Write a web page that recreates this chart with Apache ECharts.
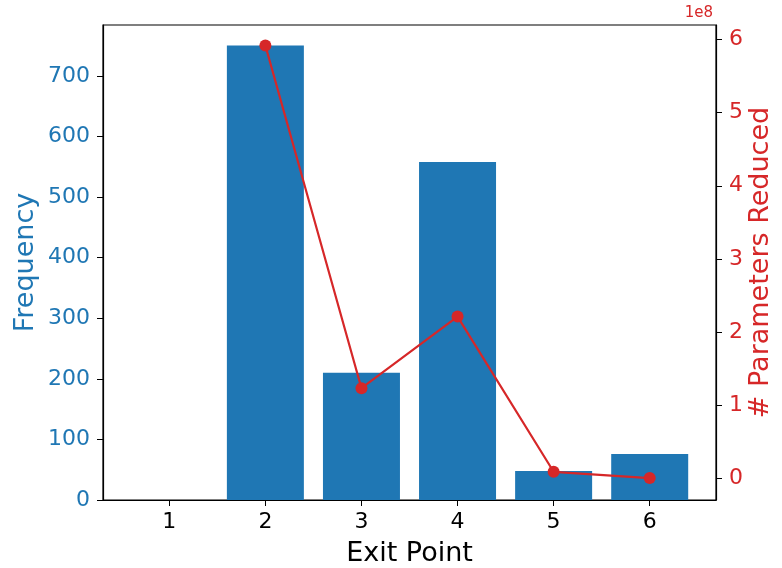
<!DOCTYPE html>
<html>
<head>
<meta charset="utf-8">
<script src="https://cdn.jsdelivr.net/npm/echarts@6/dist/echarts.min.js"></script>
<style>html,body{margin:0;padding:0;background:#fff}#c{width:782px;height:568px}</style>
</head>
<body>
<div id="c"></div>
<script>
var exitPoints = [1, 2, 3, 4, 5, 6];
var frequency = [0, 750, 210, 558, 48, 76];
var paramsReduced = [null, 5.92e8, 1.23e8, 2.21e8, 0.086e8, 0];
var freqTicks = [0, 100, 200, 300, 400, 500, 600, 700];
var paramTicks = [0, 1e8, 2e8, 3e8, 4e8, 5e8, 6e8];

var blue = '#1f77b4', red = '#d62728';
var font = 'DejaVu Sans';
var chart = echarts.init(document.getElementById('c'));
chart.setOption({
  animation: false,
  textStyle: {fontFamily: font},
  grid: {left: 103, right: 66, top: 25, bottom: 68, outerBoundsMode: 'none', containLabel: false,
    show: true, borderColor: '#000', borderWidth: 1.2, backgroundColor: 'transparent'},
  graphic: [{type: 'text', right: 69, top: 6, style: {text: '1e8', fill: red, font: '15px "DejaVu Sans"'}}],
  xAxis: {
    type: 'value', min: 0.31, max: 6.69,
    name: 'Exit Point', nameLocation: 'middle', nameGap: 40, nameMoveOverlap: false,
    nameTextStyle: {fontSize: 27, color: '#000', fontFamily: font},
    axisLine: {show: true, lineStyle: {color: '#000', width: 1.2}},
    axisTick: {show: true, length: 6, lineStyle: {color: '#000'}, customValues: exitPoints},
    axisLabel: {fontSize: 22, color: '#000', margin: 11, customValues: exitPoints},
    splitLine: {show: false}
  },
  yAxis: [{
    type: 'value', min: 0, max: 784, position: 'left',
    name: 'Frequency', nameLocation: 'middle', nameGap: 77, nameRotate: 90, nameMoveOverlap: false,
    nameTextStyle: {fontSize: 27, color: blue, fontFamily: font, verticalAlign: 'middle'},
    axisLine: {show: true, lineStyle: {color: '#000', width: 1.2}},
    axisTick: {show: true, length: 6, lineStyle: {color: '#000'}, customValues: freqTicks},
    axisLabel: {fontSize: 22, color: blue, margin: 13, customValues: freqTicks},
    splitLine: {show: false}
  }, {
    type: 'value', min: -0.30e8, max: 6.2e8, position: 'right',
    name: '# Parameters Reduced', nameLocation: 'middle', nameGap: 45, nameRotate: 90, nameMoveOverlap: false,
    nameTextStyle: {fontSize: 27, color: red, fontFamily: font, verticalAlign: 'middle'},
    axisLine: {show: true, lineStyle: {color: '#000', width: 1.2}},
    axisTick: {show: true, length: 6, lineStyle: {color: '#000'}, customValues: paramTicks},
    axisLabel: {fontSize: 22, color: red, margin: 13, customValues: paramTicks,
      formatter: function (v) { return String(Math.round(v / 1e8)); }},
    splitLine: {show: false}
  }],
  series: [{
    type: 'bar', yAxisIndex: 0, barWidth: 77,
    itemStyle: {color: blue},
    data: exitPoints.map(function (x, i) { return [x, frequency[i]]; })
  }, {
    type: 'line', yAxisIndex: 1,
    symbol: 'circle', symbolSize: 12,
    lineStyle: {color: red, width: 2.2},
    itemStyle: {color: red},
    data: exitPoints.map(function (x, i) { return [x, paramsReduced[i]]; })
  }]
});
</script>
</body>
</html>
